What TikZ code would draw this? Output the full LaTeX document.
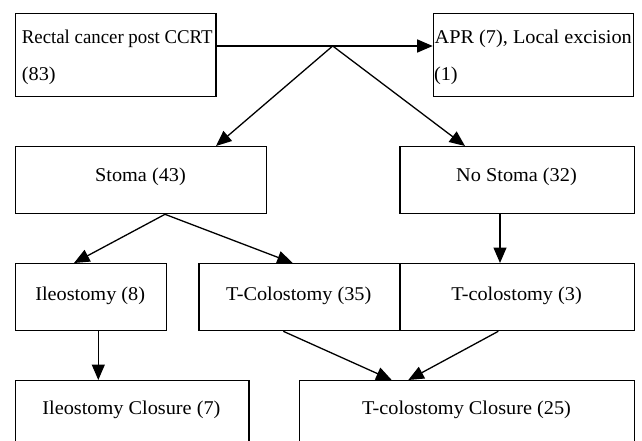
\documentclass[tikz,border=0pt]{standalone}
\usepackage{fontspec}
\setmainfont{Liberation Serif}
\newfontfamily\wideserif[FakeStretch=1.04]{Liberation Serif}
\newfontfamily\rcserif[FakeStretch=0.965]{Liberation Serif}
\usetikzlibrary{arrows.meta,calc}
\begin{document}
\begin{tikzpicture}[x=1pt,y=-1pt,
  box/.style={draw, line width=1.3pt, inner sep=0pt, anchor=north west},
  lbl/.style={font=\wideserif\fontsize{19.5}{23}\selectfont, inner sep=0pt, anchor=base},
  lblw/.style={lbl, anchor=base west},
  con/.style={line width=1.3pt, -{Triangle[length=15.5pt,width=13pt]}},
  ln/.style={line width=1.3pt}]
\useasboundingbox (0,0) rectangle (642,441);
\clip (0,0) rectangle (642,441);
% boxes
\node[box, minimum width=200.6pt, minimum height=83.3pt] (rc) at (14.7,12.7) {};
\node[box, minimum width=200.3pt, minimum height=83.3pt] (apr) at (432.7,12.7) {};
\node[box, minimum width=251.3pt, minimum height=67pt] (stoma) at (14.7,146) {};
\node[box, minimum width=234.7pt, minimum height=67pt] (nostoma) at (399.3,146) {};
\node[box, minimum width=151pt, minimum height=67pt] (ileo) at (14.7,263) {};
\node[box, minimum width=201pt, minimum height=67pt] (tcol) at (198.3,263) {};
\node[box, minimum width=234.7pt, minimum height=67pt] (tcolb) at (399.3,263) {};
\node[box, minimum width=233.6pt, minimum height=100pt] (ileoc) at (14.7,380) {};
\node[box, minimum width=335pt, minimum height=100pt] (tcolc) at (299,380) {};
% texts
\node[lblw, font=\rcserif\fontsize{19.5}{23}\selectfont] (rct1) at (21.7,43.3) {Rectal cancer post CCRT};
\node[lblw] (rct2) at (21.7,81) {(83)};
\node[lblw] (aprt1) at (434.5,43.3) {APR (7), Local excision};
\node[lblw] (aprt2) at (433.8,81) {(1)};
\node[lbl] (stomat) at (140.5,181) {Stoma (43)};
\node[lbl] (nostomat) at (516.5,181) {No Stoma (32)};
\node[lbl] (ileot) at (90.2,300.5) {Ileostomy (8)};
\node[lbl] (tcolt) at (298.8,300.5) {T-Colostomy (35)};
\node[lbl] (tcolbt) at (516.5,300.5) {T-colostomy (3)};
\node[lbl] (ileoct) at (131.4,414.5) {Ileostomy Closure (7)};
\node[lbl] (tcolct) at (466.5,414.5) {T-colostomy Closure (25)};
% connectors
\coordinate (apex) at (332.7,46);
\draw[con] ($(rc.north east)+(0,33.3)$) -- ($(apr.north west)+(0,33.3)$);
\draw[con] (apex) -- ($(stoma.north west)+(201.3,0)$);
\draw[con] (apex) -- ($(nostoma.north west)+(65.7,0)$);
\draw[con] ($(stoma.south west)+(150.3,0)$) -- ($(ileo.north west)+(59.3,0)$);
\draw[con] ($(stoma.south west)+(150.3,0)$) -- ($(tcol.north west)+(94.4,0)$);
\draw[con] ($(nostoma.south west)+(100.7,0)$) -- ($(tcolb.north west)+(100.7,0)$);
\draw[con] ($(ileo.south west)+(83.6,0)$) -- ($(ileoc.north west)+(83.6,0)$);
\draw[con] ($(tcol.south west)+(85,0)$) -- ($(tcolc.north west)+(92.7,0)$);
\draw[con] ($(tcolb.south west)+(99,0)$) -- ($(tcolc.north west)+(109.3,0)$);
\end{tikzpicture}
\end{document}
